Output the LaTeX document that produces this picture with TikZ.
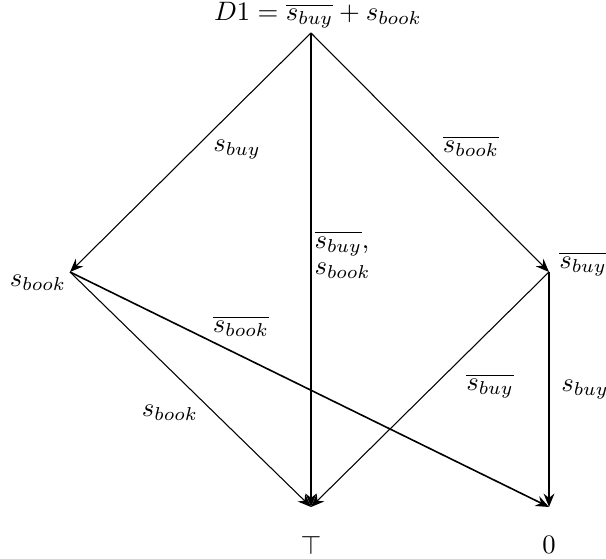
\documentclass[tikz,border=0pt]{standalone}
\usepackage{amsmath,amssymb}
\usepackage{tikz}
\usetikzlibrary{arrows.meta}

\tikzset{
    edgethin/.style={-{Stealth[length=5pt,width=4pt]}, line width=0.4pt},
    edgemid/.style={-{Stealth[length=5pt,width=4pt]}, line width=0.6pt},
    edgethick/.style={-{Stealth[length=5pt,width=4pt]}, line width=1.1pt},
    lbl/.style={inner sep=0pt}
}

\begin{document}
\begin{tikzpicture}[x=0.375pt, y=-0.375pt]
    \useasboundingbox (0,0) rectangle (606,559);

    % Vertices
    \coordinate (d1) at (311,33);
    \coordinate (book) at (70,272);
    \coordinate (nbuy) at (549,272);
    \coordinate (top) at (311,507);
    \coordinate (zero) at (549,507);

    % Vertex labels
    \node[lbl] (d1lbl) at (318,15) {$D1 = \overline{s_{buy}} + s_{book}$};
    \node[lbl] (booklbl) at (38,283) {$s_{book}$};
    \node[lbl] (nbuylbl) at (583,264) {$\overline{s_{buy}}$};
    \node[lbl] (toplbl) at (311,545) {$\top$};
    \node[lbl] (zerolbl) at (549,545) {$0$};

    % Edges
    \draw[edgethin] (d1) -- (book);
    \draw[edgethin] (d1) -- (nbuy);
    \draw[edgethick] (d1) -- (top);
    \draw[edgethin] (book) -- (top);
    \draw[edgemid] (book) -- (zero);
    \draw[edgethin] (nbuy) -- (top);
    \draw[edgethick] (nbuy) -- (zero);

    % Edge labels
    \node[lbl] (e1) at (237,150) {$s_{buy}$};
    \node[lbl] (e2) at (471,146) {$\overline{s_{book}}$};
    \node[lbl, anchor=west, align=left] (e3) at (314,255) {$\overline{s_{buy}}$,\\[-2pt]$s_{book}$};
    \node[lbl] (e4) at (170,413) {$s_{book}$};
    \node[lbl] (e5) at (241,326) {$\overline{s_{book}}$};
    \node[lbl] (e6) at (490,386) {$\overline{s_{buy}}$};
    \node[lbl] (e7) at (585,390) {$s_{buy}$};
\end{tikzpicture}
\end{document}
